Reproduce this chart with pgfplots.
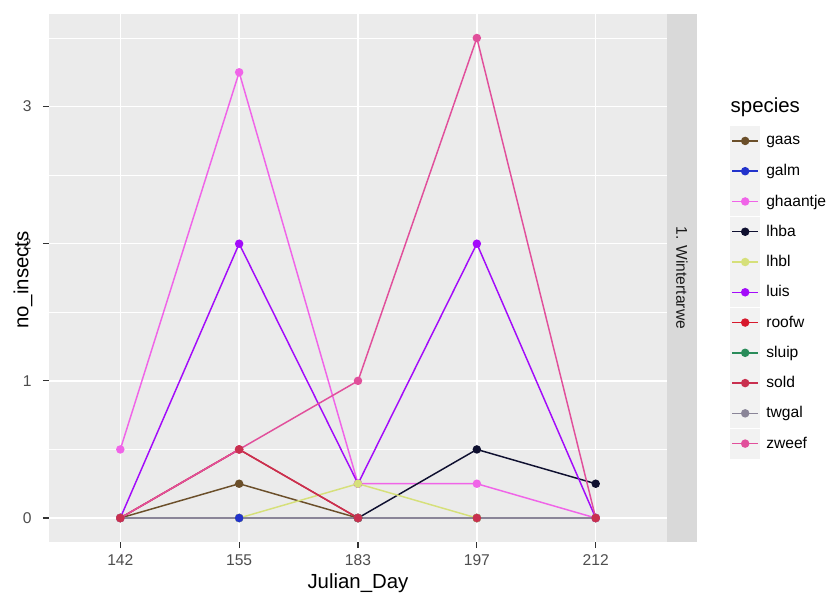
\documentclass[border=0pt]{standalone}
\usepackage{fontspec}
\setmainfont{Liberation Sans}
\usepackage{pgfplots}
\pgfplotsset{compat=1.18}
\usetikzlibrary{calc}
\definecolor{panelbg}{HTML}{EBEBEB}
\definecolor{stripbg}{HTML}{D9D9D9}
\definecolor{keybg}{HTML}{F2F2F2}
\definecolor{gthirty}{HTML}{4D4D4D}
\definecolor{gtwenty}{HTML}{333333}
\definecolor{gten}{HTML}{1A1A1A}
\definecolor{cgaas}{HTML}{6B4F2A}
\definecolor{cgalm}{HTML}{2233CC}
\definecolor{cghaantje}{HTML}{F064E8}
\definecolor{clhba}{HTML}{0F1030}
\definecolor{clhbl}{HTML}{D6E07A}
\definecolor{cluis}{HTML}{A30BFA}
\definecolor{croofw}{HTML}{D7192D}
\definecolor{csluip}{HTML}{2A8C5A}
\definecolor{csold}{HTML}{C9304F}
\definecolor{ctwgal}{HTML}{8A8598}
\definecolor{czweef}{HTML}{E14F9B}
\begin{document}
\begin{tikzpicture}[x=0.75pt,y=0.75pt]
\begin{axis}[
  at={(0,0)}, anchor=south west,
  scale only axis, width=463.5pt, height=396pt,
  xmin=0.4, xmax=5.6, ymin=-0.175, ymax=3.675,
  xtick={1,2,3,4,5}, xticklabels={142,155,183,197,212},
  ytick={0,1,2,3}, minor ytick={0.5,1.5,2.5,3.5},
  grid=both,
  major grid style={white, line width=1.0pt},
  minor grid style={white, line width=0.5pt},
  axis background/.style={fill=panelbg},
  axis line style={draw=none},
  tick pos=left, tick align=outside,
  major tick length=4.5pt, minor tick length=0pt,
  tick style={gtwenty, line width=0.8pt},
  /pgf/number format/assume math mode=true,
  ticklabel style={font=\fontsize{11.7}{14}\selectfont, text=gthirty},
  yticklabel style={xshift=-5pt},
  xticklabel style={yshift=-1.5pt},
  xlabel={Julian\_Day}, ylabel={no\_insects},
  xlabel style={at={(axis description cs:0.5,-0.078)}, anchor=center, font=\fontsize{15.3}{18}\selectfont},
  ylabel style={at={(axis description cs:-0.042,0.496)}, anchor=center, font=\fontsize{15.3}{18}\selectfont},
  legend image code/.code={
    \fill[keybg] (0pt,-10.7pt) rectangle (21.6pt,10.7pt);
    \draw[mark repeat=2,mark phase=2,#1] plot coordinates {(1pt,0pt) (10.8pt,0pt) (20.6pt,0pt)};
  },
  legend style={at={(axis description cs:1.102,0.788)}, anchor=north west,
    draw=none, fill=none, inner sep=0pt, outer sep=0pt,
    row sep=0.2pt, column sep=4.5pt,
    nodes={inner sep=0pt, font=\fontsize{11.7}{14}\selectfont}},
  legend cell align=left,
  every axis plot/.append style={line width=1.1pt},
]
\coordinate (O) at (rel axis cs:0,0);
% lines
\addplot[cgaas, forget plot] coordinates {(1,0) (2,0.25) (3,0) (4,0) (5,0)};
\addplot[cgalm, forget plot] coordinates {(2,0)};
\addplot[cghaantje, forget plot] coordinates {(1,0.5) (2,3.25) (3,0.25) (4,0.25) (5,0)};
\addplot[clhba, forget plot] coordinates {(3,0) (4,0.5) (5,0.25)};
\addplot[clhbl, forget plot] coordinates {(2,0) (3,0.25) (4,0)};
\addplot[cluis, forget plot] coordinates {(1,0) (2,2) (3,0.25) (4,2) (5,0)};
\addplot[croofw, forget plot] coordinates {(1,0) (2,0.5) (3,0)};
\addplot[csluip, forget plot] coordinates {(1,0) (2,0) (3,0) (4,0) (5,0)};
\addplot[csold, forget plot] coordinates {(1,0) (2,0.5) (3,0) (4,0) (5,0)};
\addplot[ctwgal, forget plot] coordinates {(1,0) (2,0) (3,0) (4,0) (5,0)};
\addplot[czweef, forget plot] coordinates {(1,0) (2,0.5) (3,1) (4,3.5) (5,0)};
% points
\pgfplotsset{pts/.style={only marks, mark=*, mark size=2.6pt, forget plot}}
\addplot[pts, cgaas] coordinates {(1,0) (2,0.25) (3,0) (4,0) (5,0)};
\addplot[pts, cghaantje] coordinates {(1,0.5) (2,3.25) (3,0.25) (4,0.25) (5,0)};
\addplot[pts, clhba] coordinates {(3,0) (4,0.5) (5,0.25)};
\addplot[pts, cluis] coordinates {(1,0) (2,2) (3,0.25) (4,2) (5,0)};
\addplot[pts, croofw] coordinates {(1,0) (2,0.5) (3,0)};
\addplot[pts, csluip] coordinates {(1,0) (2,0) (3,0) (4,0) (5,0)};
\addplot[pts, ctwgal] coordinates {(1,0) (2,0) (3,0) (4,0) (5,0)};
\addplot[pts, czweef] coordinates {(1,0) (2,0.5) (3,1) (4,3.5) (5,0)};
\addplot[pts, clhbl] coordinates {(2,0) (3,0.25) (4,0)};
\addplot[pts, cgalm] coordinates {(2,0)};
\addplot[pts, csold] coordinates {(1,0) (2,0.5) (3,0) (4,0) (5,0)};
% legend
\addlegendimage{cgaas, line width=1.1pt, mark=*, mark size=2.6pt}\addlegendentry{gaas}
\addlegendimage{cgalm, line width=1.1pt, mark=*, mark size=2.6pt}\addlegendentry{galm}
\addlegendimage{cghaantje, line width=1.1pt, mark=*, mark size=2.6pt}\addlegendentry{ghaantje}
\addlegendimage{clhba, line width=1.1pt, mark=*, mark size=2.6pt}\addlegendentry{lhba}
\addlegendimage{clhbl, line width=1.1pt, mark=*, mark size=2.6pt}\addlegendentry{lhbl}
\addlegendimage{cluis, line width=1.1pt, mark=*, mark size=2.6pt}\addlegendentry{luis}
\addlegendimage{croofw, line width=1.1pt, mark=*, mark size=2.6pt}\addlegendentry{roofw}
\addlegendimage{csluip, line width=1.1pt, mark=*, mark size=2.6pt}\addlegendentry{sluip}
\addlegendimage{csold, line width=1.1pt, mark=*, mark size=2.6pt}\addlegendentry{sold}
\addlegendimage{ctwgal, line width=1.1pt, mark=*, mark size=2.6pt}\addlegendentry{twgal}
\addlegendimage{czweef, line width=1.1pt, mark=*, mark size=2.6pt}\addlegendentry{zweef}
\end{axis}
\fill[stripbg] ($(O)+(618,0)$) rectangle ($(O)+(648,528)$);
\node[rotate=-90, font=\fontsize{11.7}{14}\selectfont, text=gten] at ($(O)+(633,264)$) {1. Wintertarwe};
\node[anchor=west, font=\fontsize{15.3}{18}\selectfont] at ($(O)+(677,435)$) {species};
\pgfresetboundingbox
\path[use as bounding box] ($(O)+(-49,-52)$) rectangle ($(O)+(785,542)$);
\end{tikzpicture}
\end{document}
